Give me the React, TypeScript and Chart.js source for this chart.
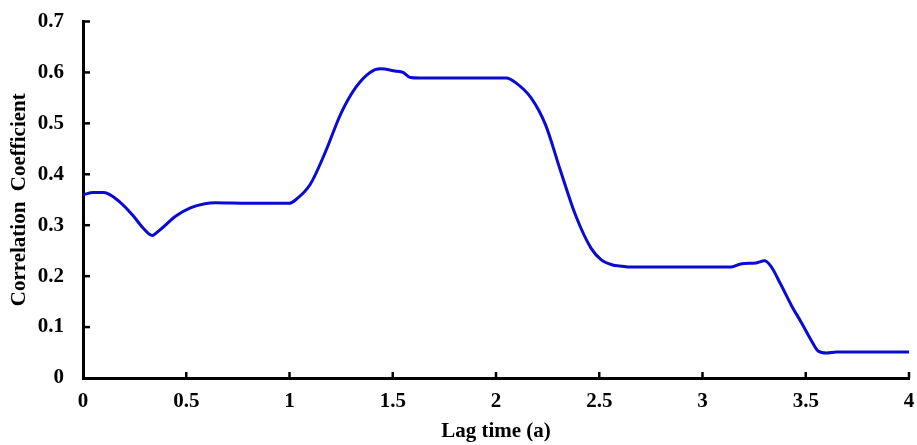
import React, { useEffect, useRef } from "react";
import { Chart, registerables } from "chart.js";

Chart.register(...registerables);

const lagTimes = [
  0, 0.05, 0.1, 0.18, 0.24, 0.29, 0.335, 0.37, 0.45, 0.52, 0.59, 0.64, 0.8, 1.0,
  1.03, 1.1, 1.17, 1.25, 1.32, 1.39, 1.44, 1.51, 1.55, 1.585, 1.63, 1.8, 2.05,
  2.095, 2.17, 2.24, 2.31, 2.385, 2.46, 2.51, 2.565, 2.6, 2.64, 2.9, 3.14,
  3.185, 3.26, 3.3, 3.33, 3.38, 3.43, 3.48, 3.525, 3.56, 3.6, 3.65, 3.8, 4.0,
];
const correlation = [
  0.36, 0.364, 0.364, 0.345, 0.32, 0.295, 0.28, 0.29, 0.318, 0.334, 0.342, 0.344, 0.343, 0.343,
  0.35, 0.38, 0.44, 0.52, 0.57, 0.6, 0.607, 0.603, 0.6, 0.59, 0.589, 0.589, 0.589,
  0.58, 0.55, 0.497, 0.41, 0.32, 0.255, 0.232, 0.222, 0.22, 0.218, 0.218, 0.218,
  0.224, 0.226, 0.23, 0.22, 0.183, 0.143, 0.108, 0.075, 0.053, 0.049, 0.051, 0.051, 0.051,
];
const xTickStep = 0.5;
const yTickStep = 0.1;

const FONT = "'Liberation Serif', 'Times New Roman', serif";

const inwardTicks = {
  id: "inwardTicks",
  afterDraw(chart: any) {
    const ctx = chart.ctx;
    const xs = chart.scales.x;
    const ys = chart.scales.y;
    const area = chart.chartArea;
    ctx.save();
    ctx.strokeStyle = "#000";
    ctx.lineWidth = 2.5;
    ys.ticks.forEach((t: any) => {
      if (t.value === 0) return;
      const p = ys.getPixelForValue(t.value);
      ctx.beginPath();
      ctx.moveTo(area.left, p);
      ctx.lineTo(area.left + 7, p);
      ctx.stroke();
    });
    xs.ticks.forEach((t: any) => {
      if (t.value === 0) return;
      const p = xs.getPixelForValue(t.value);
      ctx.beginPath();
      ctx.moveTo(p, area.bottom);
      ctx.lineTo(p, area.bottom - 6);
      ctx.stroke();
    });
    ctx.restore();
  },
};

export default function App() {
  const ref = useRef<HTMLCanvasElement>(null);
  useEffect(() => {
    document.body.style.margin = "0";
    const chart = new Chart(ref.current!, {
      type: "line",
      data: {
        datasets: [
          {
            data: lagTimes.map((x, i) => ({ x, y: correlation[i] })),
            borderColor: "#0a0ad2",
            borderWidth: 3,
            pointRadius: 0,
            cubicInterpolationMode: "monotone",
            fill: false,
          },
        ],
      },
      options: {
        animation: false,
        responsive: false,
        layout: { padding: 0 },
        plugins: { legend: { display: false }, tooltip: { enabled: false } },
        scales: {
          x: {
            type: "linear",
            min: 0,
            max: 4,
            grid: { display: false, drawTicks: false },
            border: { display: true, color: "#000", width: 3 },
            ticks: {
              stepSize: xTickStep,
              color: "#000",
              padding: 11,
              font: { family: FONT, size: 21, weight: "bold" },
              callback: (v: any) => String(Math.round(Number(v) * 10) / 10),
            },
            title: {
              display: true,
              text: "Lag time (a)",
              color: "#000",
              padding: { top: 0, bottom: 1 },
              font: { family: FONT, size: 21, weight: "bold" },
            },
            afterFit: (s: any) => {
              s.height = 67;
              s.paddingLeft = 0;
              s.paddingRight = 8;
            },
          },
          y: {
            type: "linear",
            min: 0,
            max: 0.7,
            grid: { display: false, drawTicks: false },
            border: { display: true, color: "#000", width: 3 },
            ticks: {
              stepSize: yTickStep,
              color: "#000",
              padding: 19,
              font: { family: FONT, size: 21, weight: "bold" },
              callback: (v: any) => String(Math.round(Number(v) * 10) / 10),
            },
            title: {
              display: true,
              text: "Correlation  Coefficient",
              color: "#000",
              padding: { top: 7, bottom: 0 },
              font: { family: FONT, size: 21, weight: "bold" },
            },
            afterFit: (s: any) => {
              s.width = 83;
              s.paddingTop = 21.5;
              s.paddingBottom = 0;
            },
          },
        },
      },
      plugins: [inwardTicks],
    });
    return () => chart.destroy();
  }, []);
  return (
    <div style={{ position: "absolute", left: 0, top: 0, width: 917, height: 445 }}>
      <canvas ref={ref} width={917} height={445} />
    </div>
  );
}
